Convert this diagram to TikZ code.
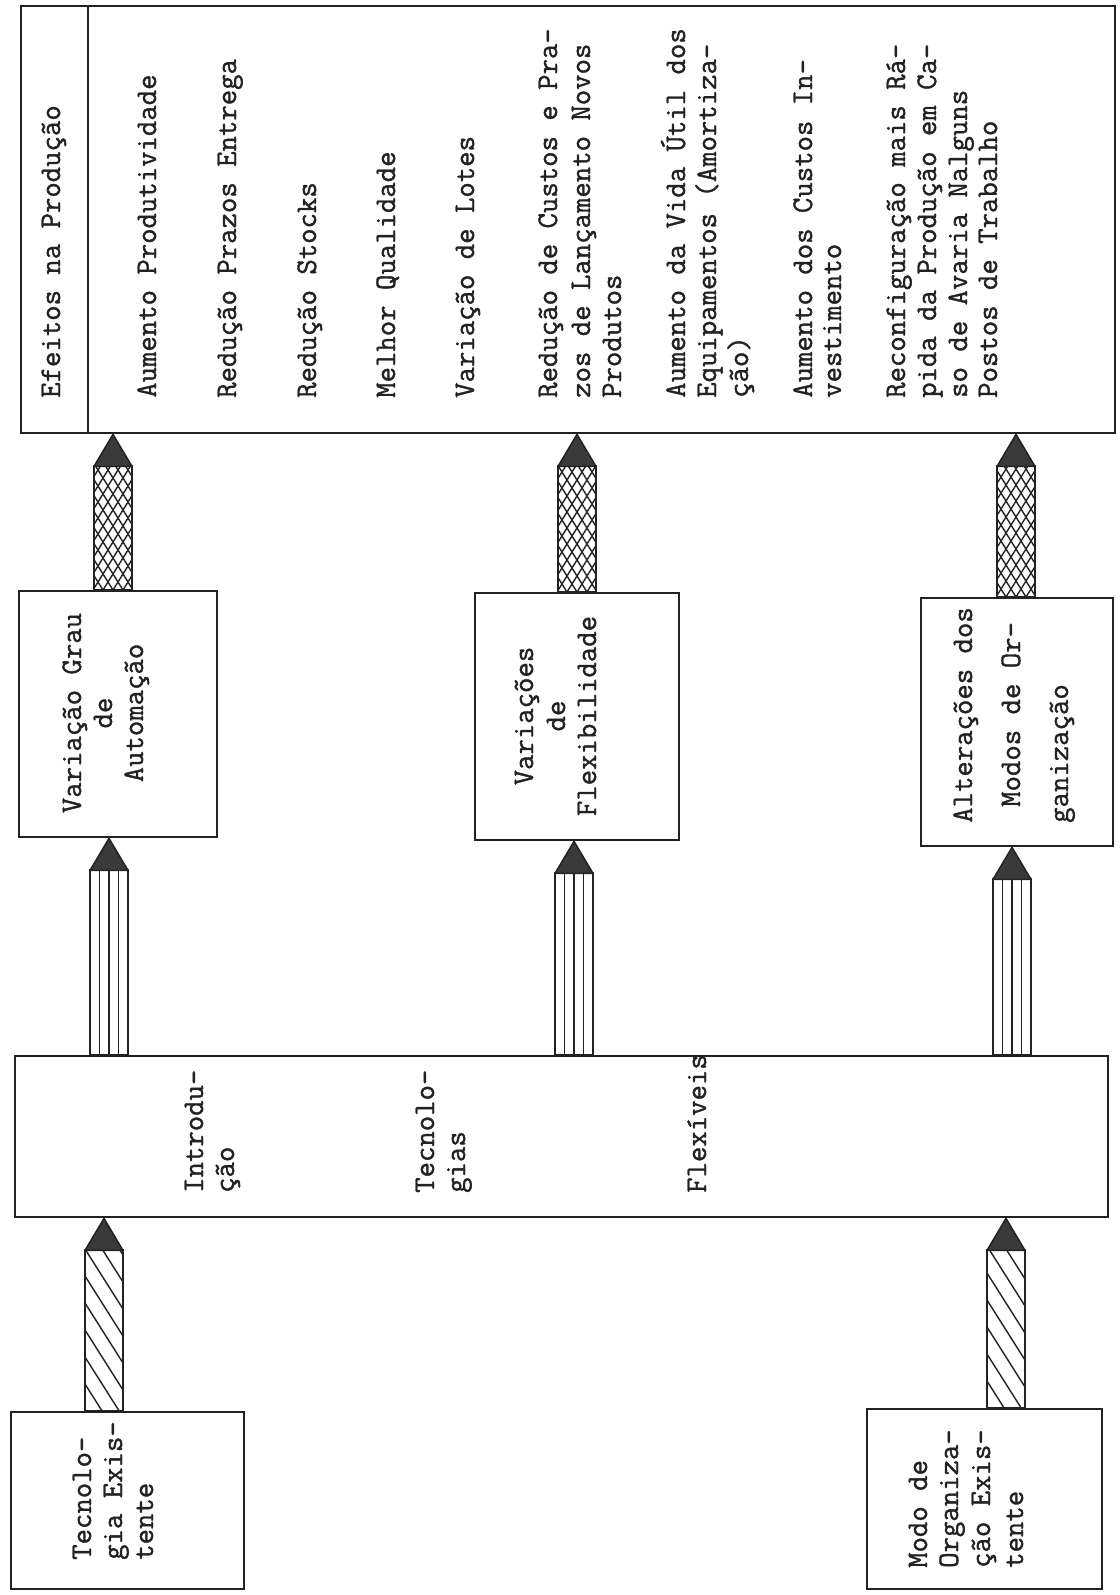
\documentclass[tikz,border=0pt]{standalone}
\usepackage{fontspec}
\newfontfamily\typewriter{Latin Modern Mono}[FakeBold=1.2]
\usetikzlibrary{calc}
\definecolor{ink}{HTML}{222222}
\definecolor{headfill}{HTML}{3A3A3A}
\tikzset{
  frame/.style={draw=ink, line width=2.4pt, inner sep=0pt, anchor=north west},
  lbl/.style={font=\typewriter\fontsize{29.9}{31}\selectfont, text=ink, rotate=90, inner sep=0pt},
  hatch/.style={draw=ink, line width=1.4pt},
  shaftline/.style={draw=ink, line width=2pt},
  head/.style={draw=ink, line width=1.5pt, fill=headfill, line join=round},
}
% shaft from #1 (bottom centre) to the tip #2, with a dark pointed head
\newcommand\arrowhead[2]{%
  \draw[shaftline] ($(#1)+(-19,0)$) rectangle ($(#2)+(19,32)$);
  \draw[head] ($(#2)+(-19,32)$) -- (#2) -- ($(#2)+(19,32)$) -- cycle;
}
\newcommand\crossarrow[2]{%
  \begin{scope}
    \clip ($(#1)+(-19,0)$) rectangle ($(#2)+(19,32)$);
    \foreach \k in {-18,...,2} \draw[hatch] ($(#1)+(\k*10,0)$) -- ++(150,-240);
    \foreach \k in {-2,...,18} \draw[hatch] ($(#1)+(\k*10,0)$) -- ++(-150,-240);
  \end{scope}
  \arrowhead{#1}{#2}
}
\newcommand\stripearrow[2]{%
  \foreach \d in {-9.5,0,9.5} \draw[hatch] ($(#1)+(\d,0)$) -- ($(#2)+(\d,32)$);
  \arrowhead{#1}{#2}
}
\newcommand\diagarrow[2]{%
  \begin{scope}
    \clip ($(#1)+(-19,0)$) rectangle ($(#2)+(19,32)$);
    \foreach \k in {0,...,12} \draw[hatch] ($(#1)+(-19,-\k*27)$) -- ++(38,60);
  \end{scope}
  \arrowhead{#1}{#2}
}
\begin{document}
\begin{tikzpicture}[x=1pt, y=-1pt]
  \fill[white] (0,0) rectangle (1119,1595);
  \useasboundingbox (0,0) rectangle (1119,1595);

  % ---- boxes ----
  \node[frame, minimum width=1094pt, minimum height=427pt] (effects) at (20,5) {};
  \node[frame, minimum width=198pt, minimum height=246pt] (automation) at (18,590) {};
  \node[frame, minimum width=204pt, minimum height=247pt] (flexibility) at (474,592) {};
  \node[frame, minimum width=192pt, minimum height=248pt] (organisation) at (920,597) {};
  \node[frame, minimum width=1093pt, minimum height=161pt] (introduction) at (14,1055) {};
  \node[frame, minimum width=233pt, minimum height=177pt] (existingtech) at (10,1411) {};
  \node[frame, minimum width=235pt, minimum height=180pt] (existingorg) at (866,1408) {};

  % header column of the effects box
  \coordinate (hd) at (88,0);
  \draw[ink, line width=2.4pt] (effects.north -| hd) -- (effects.south -| hd);

  % ---- effects on production ----
  \node[lbl, anchor=base west] (h0) at (60,398) {Efeitos na Produção};
  \node[lbl, anchor=base west] (e1) at (156,398) {Aumento Produtividade};
  \node[lbl, anchor=base west] (e2) at (236,398) {Redução Prazos Entrega};
  \node[lbl, anchor=base west] (e3) at (316,398) {Redução Stocks};
  \node[lbl, anchor=base west] (e4) at (395,398) {Melhor Qualidade};
  \node[lbl, anchor=base west] (e5) at (474,398) {Variação de Lotes};
  \node[lbl, anchor=base west] (e6a) at (557,398) {Redução de Custos e Pra-};
  \node[lbl, anchor=base west] (e6b) at (590,398) {zos de Lançamento Novos};
  \node[lbl, anchor=base west] (e6c) at (621,398) {Produtos};
  \node[lbl, anchor=base west] (e7a) at (685,398) {Aumento da Vida Útil dos};
  \node[lbl, anchor=base west] (e7b) at (716,398) {Equipamentos (Amortiza-};
  \node[lbl, anchor=base west] (e7c) at (748,398) {ção)};
  \node[lbl, anchor=base west] (e8a) at (812,398) {Aumento dos Custos In-};
  \node[lbl, anchor=base west] (e8b) at (841,398) {vestimento};
  \node[lbl, anchor=base west] (e9a) at (905,398) {Reconfiguração mais Rá-};
  \node[lbl, anchor=base west] (e9b) at (936,398) {pida da Produção em Ca-};
  \node[lbl, anchor=base west] (e9c) at (967,398) {so de Avaria Nalguns};
  \node[lbl, anchor=base west] (e9d) at (997,398) {Postos de Trabalho};

  % ---- middle boxes ----
  \node[lbl, anchor=base] (a1) at (81,713) {Variação Grau};
  \node[lbl, anchor=base] (a2) at (112,713) {de};
  \node[lbl, anchor=base] (a3) at (143,713) {Automação};
  \node[lbl, anchor=base] (f1) at (533,716) {Variações};
  \node[lbl, anchor=base] (f2) at (565,716) {de};
  \node[lbl, anchor=base] (f3) at (596,716) {Flexibilidade};
  \node[lbl, anchor=base west] (o1) at (972,823) {Alterações dos};
  \node[lbl, anchor=base west] (o2) at (1020,807) {Modos de Or-};
  \node[lbl, anchor=base west] (o3) at (1068,823) {ganização};

  % ---- introduction of flexible technologies ----
  \node[lbl, anchor=base west] (i1) at (203,1193) {Introdu-};
  \node[lbl, anchor=base west] (i2) at (234,1193) {ção};
  \node[lbl, anchor=base west] (i3) at (434,1193) {Tecnolo-};
  \node[lbl, anchor=base west] (i4) at (465,1193) {gias};
  \node[lbl, anchor=base west] (i5) at (706,1193) {Flexíveis};

  % ---- starting situation ----
  \node[lbl, anchor=base west] (t1) at (91,1560) {Tecnolo-};
  \node[lbl, anchor=base west] (t2) at (122,1560) {gia Exis-};
  \node[lbl, anchor=base west] (t3) at (153,1560) {tente};
  \node[lbl, anchor=base west] (m1) at (927,1568) {Modo de};
  \node[lbl, anchor=base west] (m2) at (958,1568) {Organiza-};
  \node[lbl, anchor=base west] (m3) at (990,1568) {ção Exis-};
  \node[lbl, anchor=base west] (m4) at (1023,1568) {tente};

  % ---- arrows ----
  \coordinate (c1) at (113,0);  \coordinate (c2) at (577,0);  \coordinate (c3) at (1016,0);
  \coordinate (s1) at (109,0);  \coordinate (s2) at (574,0);  \coordinate (s3) at (1012,0);
  \coordinate (d1) at (104,0);  \coordinate (d3) at (1006,0);

  \path (automation.north -| c1) coordinate (x1b) (effects.south -| c1) coordinate (x1t);
  \path (flexibility.north -| c2) coordinate (x2b) (effects.south -| c2) coordinate (x2t);
  \path (organisation.north -| c3) coordinate (x3b) (effects.south -| c3) coordinate (x3t);
  \crossarrow{x1b}{x1t}
  \crossarrow{x2b}{x2t}
  \crossarrow{x3b}{x3t}

  \path (introduction.north -| s1) coordinate (v1b) (automation.south -| s1) coordinate (v1t);
  \path (introduction.north -| s2) coordinate (v2b) (flexibility.south -| s2) coordinate (v2t);
  \path (introduction.north -| s3) coordinate (v3b) (organisation.south -| s3) coordinate (v3t);
  \stripearrow{v1b}{v1t}
  \stripearrow{v2b}{v2t}
  \stripearrow{v3b}{v3t}

  \path (existingtech.north -| d1) coordinate (g1b) (introduction.south -| d1) coordinate (g1t);
  \path (existingorg.north -| d3) coordinate (g3b) (introduction.south -| d3) coordinate (g3t);
  \diagarrow{g1b}{g1t}
  \diagarrow{g3b}{g3t}
\end{tikzpicture}
\end{document}
